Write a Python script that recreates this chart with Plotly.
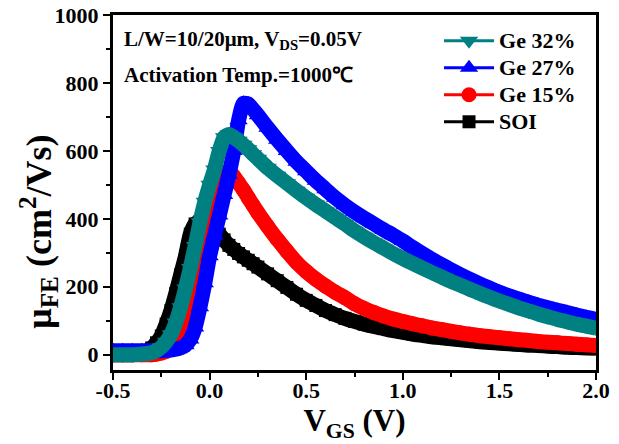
import plotly.graph_objects as go

# Gate voltage (V)
vgs = [-0.5, -0.45, -0.4, -0.35, -0.3, -0.275, -0.25, -0.225, -0.2, -0.175,
       -0.15, -0.125, -0.1, -0.075, -0.05, -0.025, 0.0, 0.025, 0.05, 0.075,
       0.1, 0.125, 0.15, 0.175, 0.2, 0.225, 0.25, 0.3, 0.35, 0.4,
       0.45, 0.5, 0.55, 0.6, 0.65, 0.7, 0.75, 0.8, 0.85, 0.9,
       0.95, 1.0, 1.05, 1.1, 1.15, 1.2, 1.25, 1.3, 1.35, 1.4,
       1.45, 1.5, 1.55, 1.6, 1.65, 1.7, 1.75, 1.8, 1.85, 1.9,
       1.95, 2.0]

mu_soi = [0, 0, 0, 5, 20, 35, 55, 90, 130, 180,
          235, 290, 355, 385, 392, 393, 385, 372, 355, 338,
          322, 310, 298, 288, 278, 268, 258, 238, 218, 198,
          178, 160, 145, 130, 118, 107, 98, 90, 83, 77,
          71, 66, 61, 57, 53, 50, 47, 44, 41, 38,
          36, 34, 32, 30, 28, 27, 25, 24, 22, 21,
          20, 19]

mu_ge15 = [0, 0, 0, 0, 0, 2, 5, 10, 18, 32,
           55, 85, 125, 170, 225, 300, 375, 440, 495, 535,
           540, 525, 505, 485, 462, 440, 418, 378, 340, 305,
           272, 245, 222, 202, 184, 168, 150, 136, 124, 114,
           105, 98, 91, 85, 79, 74, 69, 64, 60, 56,
           53, 50, 47, 44, 42, 39, 37, 35, 33, 31,
           29, 27]

mu_ge27 = [12, 12, 12, 12, 12, 12, 12, 13, 14, 16,
           20, 28, 45, 80, 140, 210, 290, 350, 410, 470,
           530, 600, 690, 740, 738, 722, 705, 668, 633, 600,
           568, 540, 512, 487, 462, 440, 420, 402, 385, 368,
           352, 335, 316, 298, 281, 265, 250, 235, 221, 208,
           196, 184, 173, 164, 155, 146, 138, 131, 124, 117,
           110, 104]

mu_ge32 = [0, 0, 0, 2, 6, 12, 22, 38, 60, 95,
           140, 195, 255, 320, 390, 450, 500, 545, 600, 640,
           648, 640, 630, 618, 605, 590, 577, 550, 527, 505,
           483, 462, 442, 423, 404, 385, 365, 347, 330, 314,
           298, 283, 269, 255, 242, 229, 216, 204, 192, 180,
           169, 158, 148, 138, 129, 120, 112, 104, 97, 90,
           84, 78]

series = [
    ("SOI", mu_soi, "#000000", "square", 13),
    ("Ge 15%", mu_ge15, "#ff0000", "circle", 15),
    ("Ge 27%", mu_ge27, "#0000ff", "triangle-up", 16),
    ("Ge 32%", mu_ge32, "#008080", "triangle-down", 16),
]

fig = go.Figure()
for name, ys, col, sym, ms in series:
    fig.add_trace(go.Scatter(x=vgs, y=ys, mode="lines", showlegend=False,
                             line=dict(color=col, width=15, shape="spline", smoothing=0.6),
                             hoverinfo="skip"))
    fig.add_trace(go.Scatter(x=vgs, y=ys, mode="lines+markers",
                             name='<span style="font-size:22px">' + name + '</span>',
                             line=dict(color=col, width=3, shape="spline", smoothing=0.6),
                             marker=dict(symbol=sym, size=ms, color=col)))

font_fam = "Liberation Serif, Times New Roman, serif"
fig.update_layout(
    width=619, height=444,
    margin=dict(l=113, r=23, t=15, b=74, autoexpand=False),
    paper_bgcolor="white", plot_bgcolor="white",
    font=dict(family=font_fam, color="black", size=22, weight="bold"),
    showlegend=True,
    legend=dict(x=0.675, y=0.98, xanchor="left", yanchor="top",
                traceorder="reversed", bgcolor="rgba(0,0,0,0)",
                font=dict(family=font_fam, size=18.5, color="black", weight="bold"),
                itemwidth=50, tracegroupgap=0),
    xaxis=dict(range=[-0.5, 2.0], tickvals=[-0.5, 0, 0.5, 1.0, 1.5, 2.0],
               ticktext=["-0.5", "0.0", "0.5", "1.0", "1.5", "2.0"],
               showline=True, mirror=True, linewidth=3, linecolor="black",
               ticks="outside", ticklen=7, tickwidth=2, tickcolor="black",
               ticklabelstandoff=-8,
               minor=dict(dtick=0.25, ticks="outside", ticklen=4, tickwidth=2, tickcolor="black"),
               showgrid=False, zeroline=False, automargin=False,
               tickfont=dict(size=22, family=font_fam, weight="bold"),
               title=dict(text="V<sub>GS</sub> (V)", standoff=0,
                          font=dict(size=31, family=font_fam, weight="bold"))),
    yaxis=dict(range=[-45, 1000], tickvals=[0, 200, 400, 600, 800, 1000],
               showline=True, mirror=True, linewidth=3, linecolor="black",
               ticks="outside", ticklen=7, tickwidth=2, tickcolor="black",
               minor=dict(dtick=100, tick0=0, ticks="outside", ticklen=4, tickwidth=2, tickcolor="black"),
               showgrid=False, zeroline=False, automargin=False,
               tickfont=dict(size=22, family=font_fam, weight="bold")),
    annotations=[
        dict(text="μ<sub>FE</sub> (cm<sup>2</sup>/Vs)", xref="paper", yref="paper",
             x=-0.155, y=0.39, xanchor="center", yanchor="middle", textangle=-90,
             showarrow=False, font=dict(size=36, family=font_fam, weight="bold")),
        dict(text="L/W=10/20μm, V<sub>DS</sub>=0.05V", xref="paper", yref="paper",
             x=0.018, y=0.93, xanchor="left", yanchor="middle", showarrow=False,
             font=dict(size=21, family=font_fam, weight="bold")),
        dict(text="Activation Temp.=1000℃", xref="paper", yref="paper",
             x=0.018, y=0.83, xanchor="left", yanchor="middle", showarrow=False,
             font=dict(size=21, family=font_fam, weight="bold")),
    ],
)

fig.write_html("out.html")
